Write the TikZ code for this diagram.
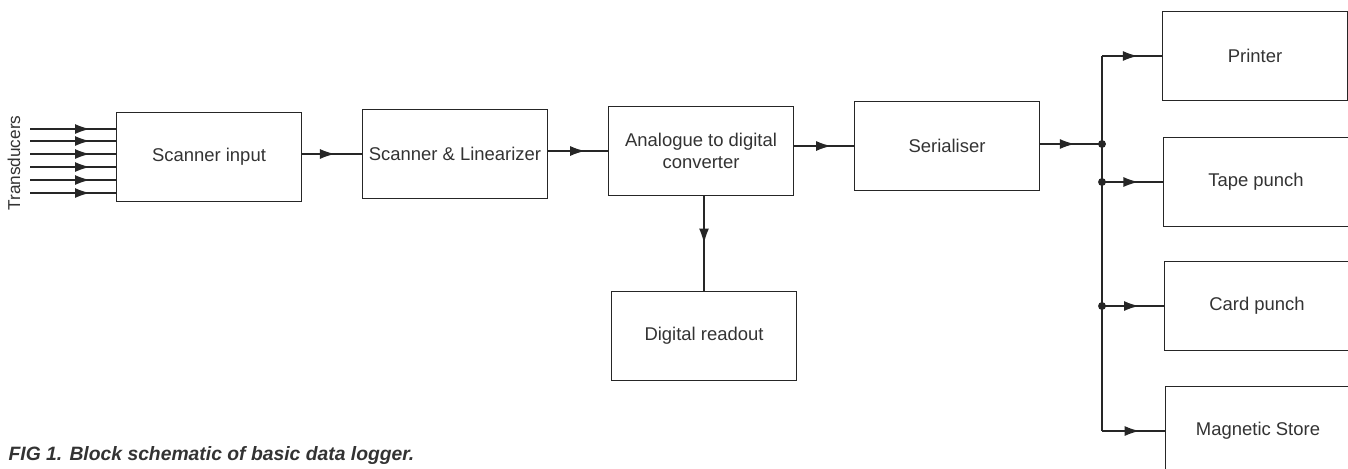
\documentclass[tikz,border=0pt]{standalone}
\usepackage{fontspec}
\setmainfont{Liberation Sans}
\usetikzlibrary{arrows.meta,positioning,decorations.markings}
\tikzstyle{block}=[draw, rectangle, minimum width=3.7cm, minimum height=1.78cm,
    align=center, font=\fontsize{10.5}{12.5}\selectfont, text=black!80]
\tikzset{post/.style={postaction={decorate},
    decoration={markings, mark=at position #1 with {\arrow{Latex[length=3mm,width=2mm]}}}},
    post/.default=0.6}
\tikzstyle{junction}=[circle, fill=black!85, inner sep=0pt, minimum size=4.5pt]

\begin{document}
\begin{tikzpicture}[x=0.02cm,y=-0.02cm,line width=0.9pt,draw=black!85]
    \useasboundingbox (0,0) rectangle (1348,468);
    \clip (0,0) rectangle (1348,468);

    \node[block] (inp) at (209,157) {Scanner input};
    \node[block] (lin) at (455,154) {Scanner \& Linearizer};
    \node[block] (adc) at (701,151) {Analogue to digital\\converter};
    \node[block] (ser) at (947,146) {Serialiser};
    \node[block] (dro) at (704,336) {Digital readout};

    \node[block] (prn) at (1255,56)  {Printer};
    \node[block] (tap) at (1256,182) {Tape punch};
    \node[block] (crd) at (1257,306) {Card punch};
    \node[block] (mag) at (1258,431) {Magnetic Store};

    % transducer inputs
    \foreach \i/\y in {1/129,2/141,3/154,4/167,5/180,6/193}{
        \coordinate (t\i) at (30,\y);
        \draw[post=0.7] (t\i) -- (t\i -| inp.west);
    }
    \node[rotate=90, font=\fontsize{9.8}{11}\selectfont, text=black!80] (trd) at (14,163) {Transducers};

    \draw[post=0.55] (lin.west -| inp.east) -- (lin.west);
    \draw[post=0.62] (adc.west -| lin.east) -- (adc.west);
    \draw[post=0.62] (ser.west -| adc.east) -- (ser.west);
    \draw[post=0.5] (adc.south -| dro.north) -- (dro.north);

    % output bus
    \coordinate (bus) at (1102,144);
    \coordinate (b1) at (1102,56);
    \coordinate (b4) at (1102,431);
    \draw[post=0.56] (bus -| ser.east) -- (bus);
    \draw (b1) -- (b4);
    \draw[post=0.6] (b1) -- (prn);
    \draw[post=0.6] (bus |- tap) -- (tap);
    \draw[post=0.6] (bus |- crd) -- (crd);
    \draw[post=0.6] (b4) -- (mag);
    \node[junction] at (bus) {};
    \node[junction] at (bus |- tap) {};
    \node[junction] at (bus |- crd) {};

    \node[anchor=west, font=\fontsize{11}{13}\selectfont\bfseries\itshape, text=black!80] (cap) at (2,455)
        {FIG 1. Block schematic of basic data logger.};
\end{tikzpicture}
\end{document}
